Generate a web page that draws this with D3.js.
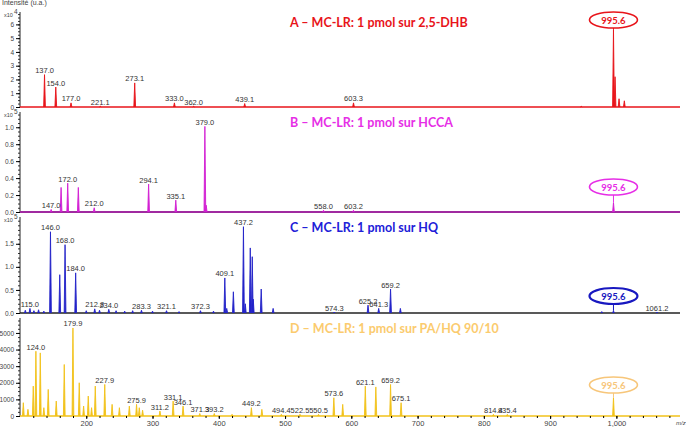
<!DOCTYPE html>
<html>
<head>
<meta charset="utf-8">
<script src="https://cdn.jsdelivr.net/npm/d3@7/dist/d3.min.js"></script>
<style>
  body { margin: 0; background: #fff; }
  svg { display: block; font-family: "Liberation Sans", Arial, sans-serif; }
</style>
</head>
<body>
<div id="chart"></div>
<script>
// Peaks as [m/z, intensity] for each spectrum
const peaksA = [[137.0, 2.35], [154.0, 1.45], [177.0, 0.3], [221.1, 0.06], [273.1, 1.75],
  [333.0, 0.3], [362.0, 0.05], [439.1, 0.25], [603.3, 0.3], [947, 0.05],
  [995.6, 5.6], [998, 2.2], [1004, 0.6], [1012, 0.45]];
const labelsA = [[137.0, "137.0"], [154.0, "154.0"], [177.0, "177.0"], [221.1, "221.1"],
  [273.1, "273.1"], [333.0, "333.0"], [362.0, "362.0"], [439.1, "439.1"], [603.3, "603.3"]];

const peaksB = [[147.0, 0.03], [162, 0.29], [172.0, 0.34], [188, 0.29], [212.0, 0.05],
  [294.1, 0.33], [335.1, 0.14], [379.0, 1.01], [381, 0.08], [558.0, 0.02], [603.2, 0.02],
  [995.6, 0.11]];
const labelsB = [[147.0, "147.0"], [172.0, "172.0"], [212.0, "212.0"], [294.1, "294.1"],
  [335.1, "335.1"], [379.0, "379.0"], [558.0, "558.0"], [603.2, "603.2"]];

const peaksC = [[108, 0.06], [115.0, 0.1], [121, 0.05], [128, 0.07], [136, 0.04],
  [146.0, 1.76], [160, 0.83], [168.0, 1.48], [184.0, 0.87], [200, 0.05],
  [212.8, 0.09], [220, 0.06], [234.0, 0.08], [245, 0.05], [258, 0.04], [270, 0.05],
  [283.3, 0.06], [300, 0.04], [321.1, 0.05], [340, 0.03], [372.3, 0.05], [392, 0.04],
  [409.1, 0.76], [412, 0.1], [422, 0.46], [437.2, 1.87], [440, 0.2], [447.5, 1.41],
  [450.5, 1.22], [452, 0.3], [464, 0.52], [482, 0.1], [574.3, 0.02],
  [625.2, 0.17], [641.3, 0.1], [659.2, 0.52], [674, 0.1], [978, 0.03], [995.6, 0.05],
  [1061.2, 0.02]];
const labelsC = [[115.0, "115.0"], [146.0, "146.0"], [168.0, "168.0"], [184.0, "184.0"],
  [212.8, "212.8"], [234.0, "234.0"], [283.3, "283.3"], [321.1, "321.1"], [372.3, "372.3"],
  [409.1, "409.1"], [437.2, "437.2"], [574.3, "574.3"], [625.2, "625.2"], [641.3, "641.3"],
  [659.2, "659.2"], [1061.2, "1061.2"]];

const peaksD = [[105, 800], [112, 400], [120, 1800], [124.0, 3900], [130.6, 3800], [136, 500],
  [142.6, 1600], [154.7, 900], [166.8, 3100], [179.9, 5300], [189.4, 2000], [196, 600],
  [203, 1200], [208, 500], [213.6, 1800], [227.9, 1900], [239, 700], [250, 500],
  [265, 600], [275.9, 700], [280, 500], [285, 350], [311.2, 300], [331.1, 900],
  [346.1, 600], [371.3, 150], [393.2, 150], [420, 100], [449.2, 500], [465, 400],
  [494.4, 100], [522.5, 100], [550.5, 100], [573.6, 1100], [587, 700], [621.1, 1800],
  [637, 1750], [659.2, 1900], [675.1, 800], [814.4, 100], [835.4, 100], [995.6, 1100]];
const labelsD = [[124.0, "124.0"], [179.9, "179.9"], [227.9, "227.9"], [275.9, "275.9"],
  [311.2, "311.2"], [331.1, "331.1"], [346.1, "346.1"], [371.3, "371.3"], [393.2, "393.2"],
  [449.2, "449.2"], [494.4, "494.4"], [522.5, "522.5"], [550.5, "550.5"], [573.6, "573.6"],
  [621.1, "621.1"], [659.2, "659.2"], [675.1, "675.1"], [814.4, "814.4"], [835.4, "835.4"]];

// Axis ticks
const xTicks = [200, 300, 400, 500, 600, 700, 800, 900, 1000];
const ticksA = [0, 1, 2, 3, 4, 5, 6];
const ticksB = [0, 0.2, 0.4, 0.6, 0.8, 1.0];
const ticksC = [0, 0.5, 1.0, 1.5];
const ticksD = [0, 1000, 2000, 3000, 4000, 5000];

const titles = ["A \u2013 MC-LR: 1 pmol sur 2,5-DHB", "B \u2013 MC-LR: 1 pmol sur HCCA",
  "C \u2013 MC-LR: 1 pmol sur HQ", "D \u2013 MC-LR: 1 pmol sur PA/HQ 90/10"];
const markerMz = 995.6;

const width = 686, height = 431;
const left = 20, right = 680;

const panels = [
  { peaks: peaksA, labels: labelsA, ticks: ticksA, max: 6.9, top: 12, base: 107,
    color: "#e8141a", title: titles[0], exp: "4", fmt: d3.format("d"),
    titleColor: "#e8141a", ellipse: "#e8141a", base_color: "#e8141a", minor: 0.25 },
  { peaks: peaksB, labels: labelsB, ticks: ticksB, max: 1.18, top: 112, base: 212,
    color: "#d21fd2", title: titles[1], exp: "5", fmt: d3.format(".1f"),
    titleColor: "#e62ee6", ellipse: "#e62ee6", base_color: "#a02aa0", minor: 0.05 },
  { peaks: peaksC, labels: labelsC, ticks: ticksC, max: 2.08, top: 217, base: 313,
    color: "#2323c8", title: titles[2], exp: "5", fmt: d3.format(".1f"),
    titleColor: "#2020d8", ellipse: "#1818c0", base_color: "#222", minor: 0.1 },
  { peaks: peaksD, labels: labelsD, ticks: ticksD, max: 5900, top: 318, base: 416,
    color: "#f2c21a", title: titles[3], exp: null, fmt: d3.format("d"),
    titleColor: "#fbcb6e", ellipse: "#f7c67a", base_color: "#f2c21a", minor: 250 }
];

const x = d3.scaleLinear().domain([100, 1096]).range([left, right]);

const svg = d3.select("#chart").append("svg")
  .attr("width", width).attr("height", height);

svg.append("text")
  .attr("x", 2).attr("y", 5)
  .attr("font-size", 7).attr("fill", "#444")
  .text("Intensit\u00e9 (u.a.)");

panels.forEach((p, i) => {
  const y = d3.scaleLinear().domain([0, p.max]).range([p.base, p.top]);
  const g = svg.append("g");

  // y axis with minor ticks
  const minorTicks = d3.range(0, p.max, p.minor);
  g.append("g")
    .attr("transform", `translate(${left},0)`)
    .call(d3.axisLeft(y).tickValues(minorTicks).tickSize(2).tickFormat(""))
    .call(a => a.select(".domain").remove())
    .call(a => a.selectAll("line").attr("stroke", "#333"));
  const yAxis = g.append("g")
    .attr("transform", `translate(${left},0)`)
    .call(d3.axisLeft(y).tickValues(p.ticks).tickSize(4).tickPadding(2).tickFormat(p.fmt));
  yAxis.select(".domain").attr("stroke", "#222").attr("d", `M0,${p.top}V${p.base}`);
  yAxis.selectAll("text").attr("font-size", 6.5).attr("fill", "#444")
    .attr("font-family", "Liberation Sans, Arial, sans-serif");

  if (p.exp) {
    const t = g.append("text").attr("x", 4).attr("y", p.top + 5)
      .attr("font-size", 5.5).attr("fill", "#444").text("x10");
    g.append("text").attr("x", 14).attr("y", p.top + 2)
      .attr("font-size", 6.5).attr("fill", "#444").text(p.exp);
  }

  // baseline
  g.append("line")
    .attr("x1", left).attr("x2", right)
    .attr("y1", p.base).attr("y2", p.base)
    .attr("stroke", p.base_color).attr("stroke-width", i === 1 ? 1.8 : 1.3);

  // peaks as thin triangles
  const w = 1.3;
  const shape = d3.line().x(d => x(d[0])).y(d => y(d[1]));
  g.append("g").selectAll("path")
    .data(p.peaks)
    .join("path")
    .attr("d", d => shape([[d[0] - w, 0], [d[0], d[1]], [d[0] + w, 0]]))
    .attr("fill", p.color)
    .attr("stroke", p.color)
    .attr("stroke-width", 0.9);

  // peak labels
  const peakMap = new Map(p.peaks.map(d => [d[0], d[1]]));
  g.append("g").selectAll("text")
    .data(p.labels)
    .join("text")
    .attr("x", d => x(d[0]))
    .attr("y", d => y(peakMap.get(d[0]) || 0) - 1.5)
    .attr("text-anchor", "middle")
    .attr("font-size", 7.5)
    .attr("fill", "#333")
    .text(d => d[1]);

  // title
  g.append("text")
    .attr("x", 290).attr("y", p.top + 15)
    .attr("font-family", "Lato, 'Open Sans', sans-serif")
    .attr("font-weight", "bold")
    .attr("font-size", 12.5)
    .attr("fill", p.titleColor)
    .text(p.title);

  // circled molecular ion
  const ey = [20, 187, 296, 385][i];
  const cx = x(markerMz);
  g.append("line")
    .attr("x1", cx).attr("x2", cx)
    .attr("y1", ey + 8).attr("y2", y(peakMap.get(markerMz)))
    .attr("stroke", p.ellipse).attr("stroke-width", 1);
  g.append("ellipse")
    .attr("cx", cx).attr("cy", ey).attr("rx", 24).attr("ry", 8)
    .attr("fill", "#fff")
    .attr("stroke", p.ellipse)
    .attr("stroke-width", i === 2 ? 2.2 : 1.6);
  g.append("text")
    .attr("x", cx).attr("y", ey + 3.5)
    .attr("text-anchor", "middle")
    .attr("font-family", "Lato, 'Open Sans', sans-serif")
    .attr("font-weight", "bold")
    .attr("font-size", 9.5)
    .attr("fill", p.ellipse)
    .text(markerMz.toFixed(1));

  // bottom x axis on last panel only
  if (i === panels.length - 1) {
    const xAxis = g.append("g")
      .attr("transform", `translate(0,${p.base})`)
      .call(d3.axisBottom(x).tickValues(d3.range(120, 1096, 20)).tickSize(2).tickFormat(""));
    xAxis.select(".domain").remove();
    const xMain = g.append("g")
      .attr("transform", `translate(0,${p.base})`)
      .call(d3.axisBottom(x).tickValues(xTicks).tickSize(3).tickPadding(2));
    xMain.select(".domain").remove();
    xMain.selectAll("text").attr("font-size", 7.5).attr("fill", "#444")
      .attr("font-family", "Liberation Sans, Arial, sans-serif");
    g.append("text")
      .attr("x", 676).attr("y", p.base + 9)
      .attr("font-size", 6).attr("fill", "#444")
      .attr("font-style", "italic")
      .text("m/z");
  }
});
</script>
</body>
</html>
